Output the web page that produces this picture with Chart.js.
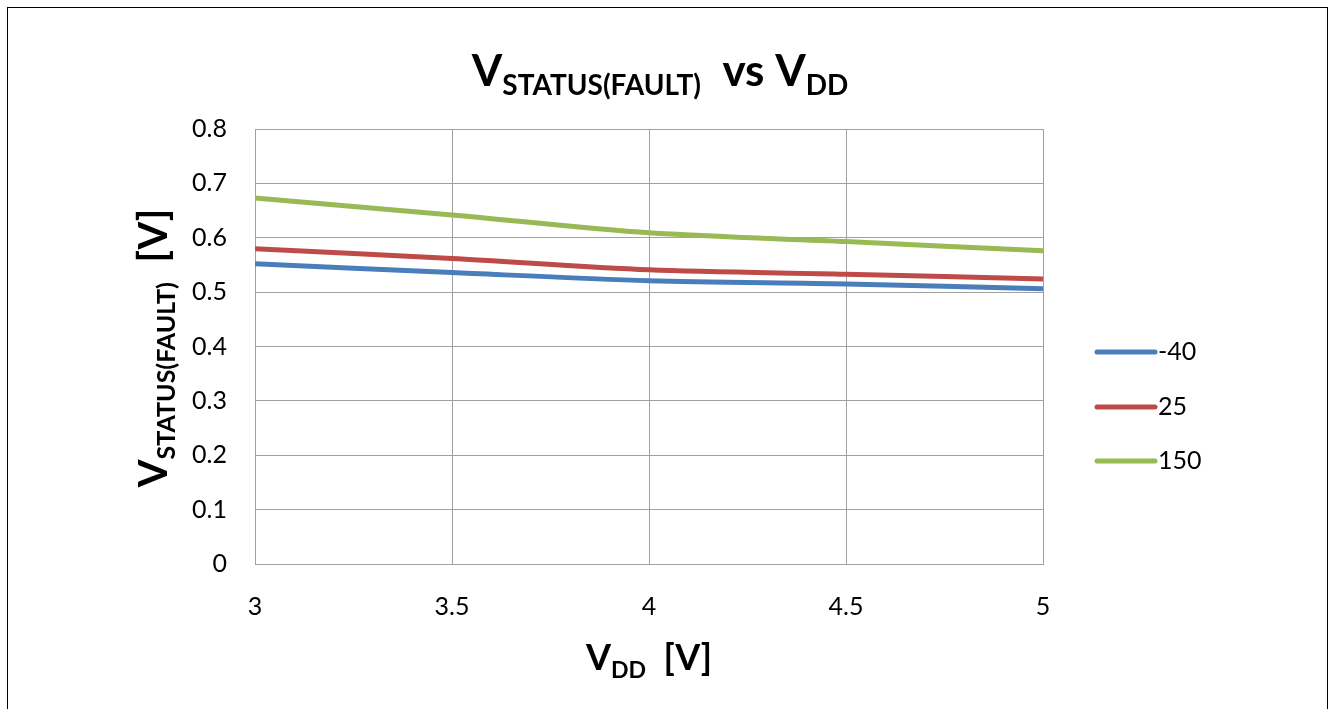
<!DOCTYPE html>
<html>
<head>
<meta charset="utf-8">
<script src="https://cdn.jsdelivr.net/npm/chart.js@4"></script>
<style>
  html, body { margin: 0; padding: 0; background: #fff; }
  #wrap { position: relative; width: 1332px; height: 709px; }
  #frame { position: absolute; left: 7px; top: 7px; width: 1319px; height: 710px;
           border: 1px solid #000; border-bottom: none; pointer-events: none; }
</style>
</head>
<body>
<div id="wrap">
  <canvas id="chart" width="1332" height="709"></canvas>
  <div id="frame"></div>
</div>
<script>
// ===== data =====
const vdd = [3, 3.5, 4, 4.5, 5];
const seriesNames = ["-40", "25", "150"];
const valuesM40 = [0.552, 0.536, 0.521, 0.515, 0.506];
const values25 = [0.580, 0.562, 0.541, 0.533, 0.524];
const values150 = [0.673, 0.642, 0.609, 0.593, 0.576];
const yTicks = [0, 0.1, 0.2, 0.3, 0.4, 0.5, 0.6, 0.7, 0.8];
const xTicks = [3, 3.5, 4, 4.5, 5];

const colors = ["#4a7ebb", "#be4b48", "#98b954"];
const FONT = "Lato, 'Open Sans', sans-serif";

// draw text made of parts (big text + subscripts)
function drawRich(ctx, parts, x, y) {
  let total = 0;
  parts.forEach(p => {
    ctx.font = "bold " + p.size + "px " + FONT;
    p.w = ctx.measureText(p.t).width;
    total += p.w;
  });
  let cx = x - total / 2;
  ctx.textBaseline = "alphabetic";
  ctx.textAlign = "left";
  parts.forEach(p => {
    ctx.font = "bold " + p.size + "px " + FONT;
    ctx.fillText(p.t, cx, y + (p.dy || 0));
    cx += p.w;
  });
}

const labelsPlugin = {
  id: "labelsPlugin",
  afterDraw(chart) {
    const ctx = chart.ctx;
    const area = chart.chartArea;
    ctx.save();
    ctx.fillStyle = "#000";

    // title
    drawRich(ctx, [
      { t: "V", size: 44 },
      { t: "STATUS(FAULT)", size: 28, dy: 9 },
      { t: "  vs V", size: 44 },
      { t: "DD", size: 28, dy: 9 }
    ], 660, 86);

    // x axis title
    drawRich(ctx, [
      { t: "V", size: 36 },
      { t: "DD", size: 23, dy: 8 },
      { t: "  [V]", size: 36 }
    ], (area.left + area.right) / 2, 670);

    // y axis title
    ctx.save();
    ctx.translate(167, 348);
    ctx.rotate(-Math.PI / 2);
    drawRich(ctx, [
      { t: "V", size: 40 },
      { t: "STATUS(FAULT)", size: 25, dy: 8 },
      { t: "  [V]", size: 40 }
    ], 0, 0);
    ctx.restore();

    // legend
    const ys = [352, 407, 461];
    ctx.lineCap = "round";
    ctx.lineWidth = 5;
    seriesNames.forEach((name, i) => {
      ctx.strokeStyle = colors[i];
      ctx.beginPath();
      ctx.moveTo(1097, ys[i]);
      ctx.lineTo(1155, ys[i]);
      ctx.stroke();
      ctx.font = "25px " + FONT;
      ctx.textBaseline = "middle";
      ctx.textAlign = "left";
      ctx.fillText(name, 1158, ys[i]);
    });
    ctx.restore();
  }
};

const datasets = [valuesM40, values25, values150].map((vals, i) => ({
  label: seriesNames[i],
  data: vdd.map((x, j) => ({ x: x, y: vals[j] })),
  borderColor: colors[i],
  backgroundColor: colors[i],
  borderWidth: 5,
  pointRadius: 0,
  tension: 0.3,
  fill: false
}));

new Chart(document.getElementById("chart"), {
  type: "line",
  data: { datasets: datasets },
  options: {
    responsive: false,
    animation: false,
    layout: { padding: { left: 0, top: 129, right: 289, bottom: 0 } },
    plugins: {
      legend: { display: false },
      title: { display: false },
      tooltip: { enabled: false }
    },
    scales: {
      x: {
        type: "linear",
        min: 3, max: 5,
        afterBuildTicks: axis => { axis.ticks = xTicks.map(v => ({ value: v })); },
        afterFit: axis => { axis.height = 145; },
        grid: { color: "#a0a0a0", lineWidth: 1, drawTicks: false },
        border: { color: "#a0a0a0" },
        ticks: { color: "#000", padding: 28, font: { family: FONT, size: 25 },
                 callback: v => String(v) }
      },
      y: {
        min: 0, max: 0.8,
        afterBuildTicks: axis => { axis.ticks = yTicks.map(v => ({ value: v })); },
        afterFit: axis => { axis.width = 255; },
        grid: { color: "#a0a0a0", lineWidth: 1, drawTicks: false },
        border: { color: "#a0a0a0" },
        ticks: { color: "#000", padding: 28, font: { family: FONT, size: 25 },
                 callback: v => String(v) }
      }
    }
  },
  plugins: [labelsPlugin]
});
</script>
</body>
</html>
